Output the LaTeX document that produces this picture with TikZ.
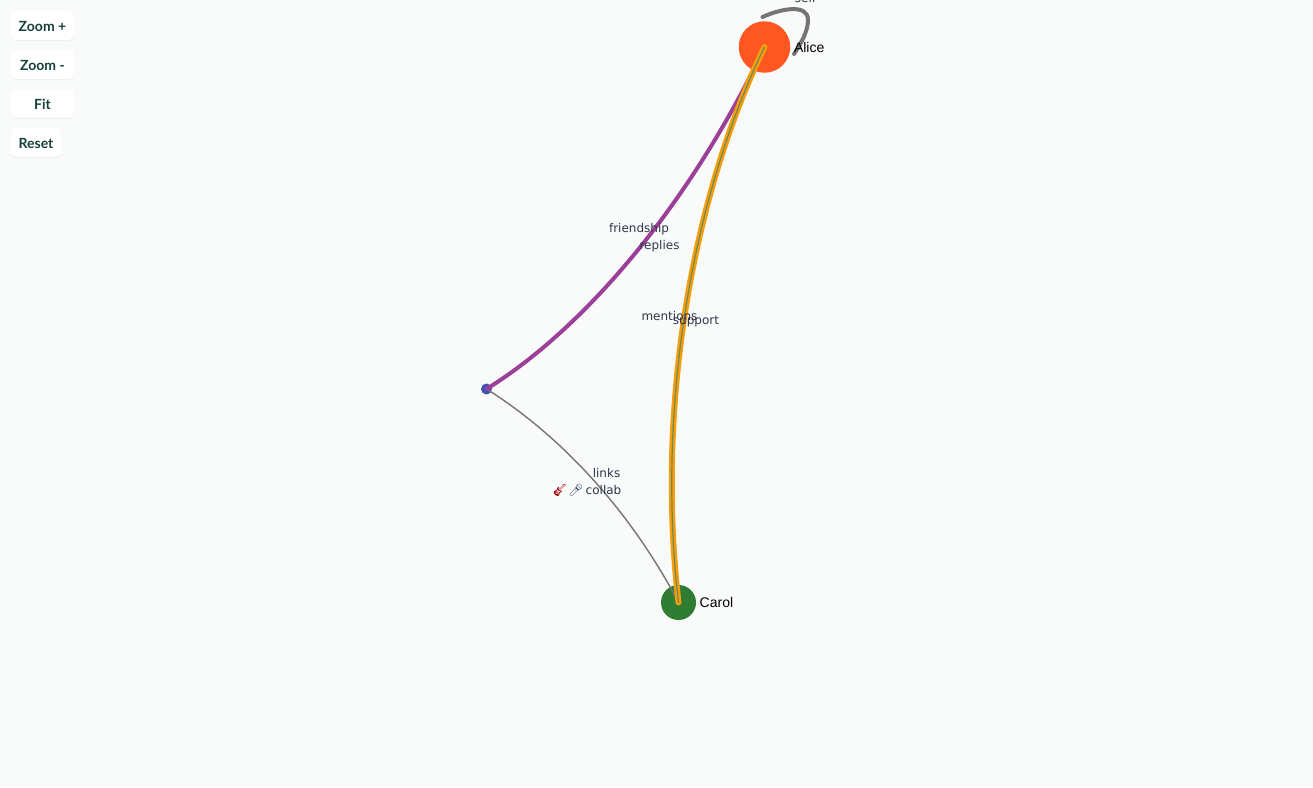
\documentclass[tikz,border=0pt]{standalone}
\usepackage{fontspec}
\setmainfont{DejaVu Sans}
\newfontfamily\btnfont{Lato}
\newfontfamily\nodefont{Liberation Sans}
\newfontfamily\emojifont{Noto Emoji}
\usetikzlibrary{shadows}
\definecolor{bg}{HTML}{F9FBFA}
\definecolor{btntext}{HTML}{16403A}
\definecolor{lbl}{HTML}{2F3648}
\definecolor{alicec}{HTML}{FF5722}
\definecolor{carolc}{HTML}{2E7D32}
\definecolor{dotc}{HTML}{3F51B5}
\definecolor{purp}{HTML}{9C3F98}
\definecolor{orng}{HTML}{F59E0B}
\definecolor{grayedge}{HTML}{757575}
\definecolor{coregray}{HTML}{6E8A5A}
\definecolor{micc}{HTML}{35506E}
\tikzset{
  btn/.style={rectangle,rounded corners=5pt,fill=white,inner sep=0pt,minimum height=29pt,
    text height=11pt,text depth=0pt,
    font=\btnfont\fontsize{14}{14}\selectfont\bfseries,text=btntext,
    general shadow={fill=black,opacity=0.05,shadow xshift=0pt,shadow yshift=-1pt,scale=1.04}},
  edgelbl/.style={font=\fontsize{12}{12}\selectfont,text=lbl,inner sep=0pt,anchor=base},
  nodelbl/.style={font=\nodefont\fontsize{14}{14}\selectfont,text=black,inner sep=0pt,anchor=base west},
  vertex/.style={circle,inner sep=0pt},
  thinedge/.style={draw=grayedge,line width=1.4pt},
  loopedge/.style={draw=grayedge,line width=4pt,line cap=round},
  purpedge/.style={draw=purp,line width=4pt,line cap=round},
  orangeedge/.style={draw=orng,line width=6pt,line cap=round},
  coreedge/.style={draw=coregray,line width=1.2pt,line cap=round}
}
\begin{document}
\begin{tikzpicture}[x=1pt,y=-1pt]
\useasboundingbox (0,0) rectangle (1313,787);
\clip (0,0) rectangle (1313,787);
\fill[bg] (0,0) rectangle (1313,787);

\node[vertex,fill=alicec,minimum size=51.5pt] (alice) at (764.5,47) {};
\node[vertex,fill=carolc,minimum size=35pt] (carol) at (678.5,602.5) {};
\node[vertex,fill=dotc,minimum size=11pt] (dot) at (486.5,389) {};
\coordinate (loopa) at (762.5,17);
\coordinate (loopb) at (794,54);

\draw[thinedge] (dot.center) .. controls (560,435) and (630,510) .. (carol.center);
\draw[purpedge] (dot.center) .. controls (590,325) and (695,195) .. (alice.center);
\draw[orangeedge] (alice.center) .. controls (695,190) and (655,400) .. (carol.center);
\draw[coreedge] (alice.center) .. controls (695,190) and (655,400) .. (carol.center);
\draw[loopedge] (loopa) .. controls (780,9) and (808,3) .. (808,20) .. controls (808,32) and (800,45) .. (loopb);

\node[nodelbl] (alicelbl) at (793.8,52) {Alice};
\node[nodelbl] (carollbl) at (699.5,607) {Carol};

\node[edgelbl] (selflbl) at (805.5,2) {self};
\node[edgelbl] (friend) at (639,232) {friendship};
\node[edgelbl] (replies) at (659.5,249) {replies};
\node[edgelbl] (mentions) at (669.5,320) {mentions};
\node[edgelbl] (support) at (696,324) {support};
\node[edgelbl] (links) at (606.5,477) {links};
\node[edgelbl] (collab) at (603.5,494) {collab};
\node[inner sep=0pt,font=\emojifont\fontsize{12}{12}\selectfont,text=red!65!black] (guitar) at (560,490) {🎸};
\node[inner sep=0pt,font=\emojifont\fontsize{12}{12}\selectfont,text=micc] (mic) at (576,490) {🎤};

\node[btn,minimum width=63pt] (zoomin) at (42.5,25.5) {Zoom +};
\node[btn,minimum width=63pt] (zoomout) at (42.5,64.5) {Zoom -};
\node[btn,minimum width=63pt] (fit) at (42.5,103.5) {Fit};
\node[btn,minimum width=50pt] (reset) at (36,142.5) {Reset};
\end{tikzpicture}
\end{document}
